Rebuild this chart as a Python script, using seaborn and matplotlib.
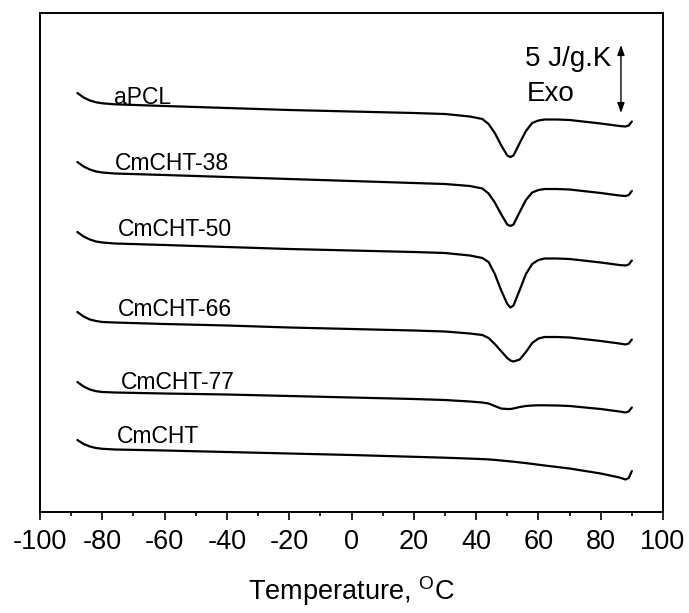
import matplotlib
matplotlib.use("Agg")
import matplotlib.pyplot as plt
import seaborn as sns
import pandas as pd

# Temperature grid (deg C)
temperature = [-88, -86, -84, -82, -80, -76, -60, -40, -20, 0, 20, 30, 38, 42, 44, 46,
               48, 50, 51, 52, 54, 56, 58, 60, 62, 66, 70, 80, 86, 88, 89, 90]

# Heat flow traces (arbitrary, vertically offset units)
apcl = [419, 414.5, 411.5, 409.7, 408.7, 407.7, 406, 404, 402, 400.5, 399, 398, 395.5, 393, 388, 379,
        367, 356.5, 355, 356.5, 369, 381, 389, 391.5, 392.5, 392.5, 392, 388.5, 386, 385.5, 386.5, 390.5]
cmcht38 = [350, 345.5, 342.5, 340.5, 339.5, 338.5, 337, 335, 333, 331, 329, 328, 326, 323.5, 318.5, 309.5,
           298, 287.5, 286, 287.5, 300, 312, 319.5, 322, 323, 323, 322.5, 319, 316.5, 316, 317, 321]
cmcht50 = [280, 275.5, 272.5, 270.5, 269.5, 268.5, 267, 265, 263, 261.5, 260, 259, 256.5, 254, 250, 238,
           222, 208, 204.5, 206.5, 222, 238, 248, 252, 253.5, 253.5, 253, 249.5, 247, 246.5, 247.5, 251.5]
cmcht66 = [200, 195.5, 192.5, 191, 190, 189.5, 188, 186.5, 184.5, 183, 181.5, 180.5, 178.5, 177, 174, 168,
           161, 154, 151.5, 150.5, 152.5, 160, 169, 173.5, 175, 175, 174.5, 171, 168.5, 167.5, 168.5, 172.5]
cmcht77 = [130, 125.5, 122.5, 120.8, 120, 119.5, 118.5, 117.5, 116, 114.5, 113, 112, 110.5, 109.5, 108.5, 106,
           103.5, 103, 103, 103.5, 105, 106, 106.5, 106.7, 106.7, 106.5, 106, 103, 100.5, 99.5, 100.5, 104.5]
cmcht = [72, 68, 65.5, 64, 63.2, 62.5, 61.5, 60, 58.5, 57, 55.2, 54.3, 53.4, 52.9, 52.6, 52.1,
         51.5, 50.9, 50.6, 50.3, 49.6, 48.9, 48.1, 47.3, 46.5, 45, 43.5, 38.5, 34.5, 32.5, 34, 41]

series_names = ["aPCL", "CmCHT-38", "CmCHT-50", "CmCHT-66", "CmCHT-77", "CmCHT"]
series_values = [apcl, cmcht38, cmcht50, cmcht66, cmcht77, cmcht]

# label anchor (x, baseline y) for each trace
label_x = [-76.2, -75.9, -75.0, -75.0, -74.0, -75.3]
label_y = [408, 342, 276, 196, 123, 69]

xticks = [-100, -80, -60, -40, -20, 0, 20, 40, 60, 80, 100]

sns.set_theme(style="ticks")
plt.rcParams["font.family"] = ["Liberation Sans", "DejaVu Sans"]
plt.rcParams["mathtext.default"] = "regular"
plt.rcParams["text.color"] = "black"
plt.rcParams["axes.labelcolor"] = "black"
plt.rcParams["xtick.color"] = "black"
plt.rcParams["xtick.labelcolor"] = "black"

fig = plt.figure(figsize=(6.89, 6.13), dpi=100)
ax = fig.add_axes([40 / 689, 1 - 512 / 613, 623 / 689, 499 / 613])

rows = []
for name, vals in zip(series_names, series_values):
    for t, v in zip(temperature, vals):
        rows.append({"T": t, "HF": v, "sample": name})
df = pd.DataFrame(rows)

for name in series_names:
    sub = df[df["sample"] == name]
    sns.lineplot(data=sub, x="T", y="HF", color="black", linewidth=1.6,
                 sort=False, estimator=None, ax=ax)

for name, lx, ly in zip(series_names, label_x, label_y):
    ax.text(lx, ly, name, fontsize=16.5, va="baseline", ha="left", color="black")

# scale bar
ax.annotate("", xy=(86.5, 467), xytext=(86.5, 399),
            arrowprops=dict(arrowstyle="<|-|>,head_length=0.5,head_width=0.18",
                            color="black", lw=1.0, shrinkA=0, shrinkB=0))
ax.text(55.7, 453, "5 J/g.K", fontsize=20, va="center", ha="left", color="black")
ax.text(56.4, 418, "Exo", fontsize=20, va="center", ha="left", color="black")

ax.set_xlim(-100, 100)
ax.set_ylim(0, 499)
ax.set_xticks(xticks)
ax.set_xticklabels([str(v) for v in xticks], fontsize=19.5, color="black")
ax.set_xticks(range(-90, 100, 20), minor=True)
ax.set_yticks([])
ax.set_ylabel("")
ax.set_xlabel("Temperature, $^{O}$C", fontsize=19.5, labelpad=14, color="black")
ax.tick_params(axis="x", which="major", direction="out", length=6, width=1.2, pad=6, color="black")
ax.tick_params(axis="x", which="minor", direction="out", length=3, width=1.2, color="black")
for s in ax.spines.values():
    s.set_visible(True)
    s.set_linewidth(1.4)
    s.set_color("black")

fig.savefig("out.png", dpi=100)
